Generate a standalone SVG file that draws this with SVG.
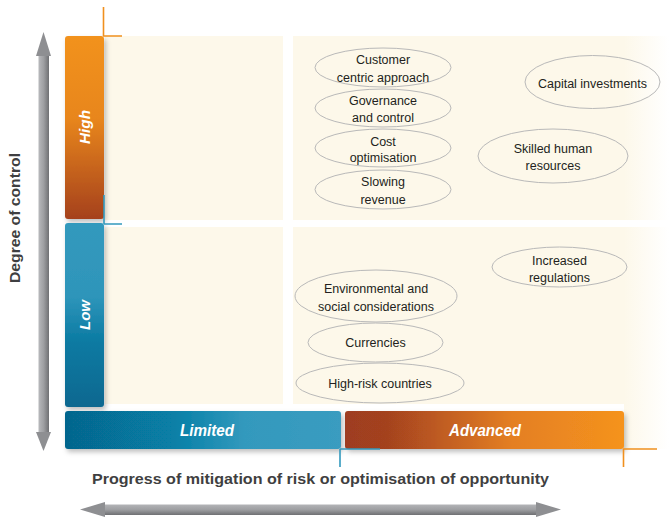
<svg xmlns="http://www.w3.org/2000/svg" width="669" height="531" viewBox="0 0 669 531">
<defs>
<linearGradient id="gHigh" x1="0" y1="0" x2="0" y2="1">
<stop offset="0" stop-color="#f2921e"/><stop offset="0.45" stop-color="#e8861f"/><stop offset="1" stop-color="#a5411f"/>
</linearGradient>
<linearGradient id="gLow" x1="0" y1="0" x2="0" y2="1">
<stop offset="0" stop-color="#3399bd"/><stop offset="0.4" stop-color="#2e95ba"/><stop offset="0.65" stop-color="#0a7aa2"/><stop offset="1" stop-color="#0a6890"/>
</linearGradient>
<linearGradient id="gLim" x1="0" y1="0" x2="1" y2="0">
<stop offset="0" stop-color="#06658d"/><stop offset="0.4" stop-color="#0780a7"/><stop offset="0.65" stop-color="#3399bd"/><stop offset="1" stop-color="#3a9cc0"/>
</linearGradient>
<linearGradient id="gAdv" x1="0" y1="0" x2="1" y2="0">
<stop offset="0" stop-color="#9e3d20"/><stop offset="0.15" stop-color="#a4421f"/><stop offset="0.6" stop-color="#e47f22"/><stop offset="1" stop-color="#f5931e"/>
</linearGradient>
<linearGradient id="gFade" x1="0" y1="0" x2="1" y2="0">
<stop offset="0" stop-color="#fdf8ea"/><stop offset="0.88" stop-color="#fdf8ea"/><stop offset="1" stop-color="#ffffff"/>
</linearGradient>
<linearGradient id="gFade2" x1="0" y1="0" x2="1" y2="0">
<stop offset="0" stop-color="#fdf8ea"/><stop offset="1" stop-color="#ffffff"/>
</linearGradient>
<linearGradient id="gShaftV" x1="0" y1="0" x2="1" y2="0">
<stop offset="0" stop-color="#b8b9bc"/><stop offset="0.5" stop-color="#9d9ea1"/><stop offset="1" stop-color="#6f7073"/>
</linearGradient>
<linearGradient id="gShaftH" x1="0" y1="0" x2="0" y2="1">
<stop offset="0" stop-color="#b3b4b7"/><stop offset="0.5" stop-color="#9d9ea1"/><stop offset="1" stop-color="#6f7073"/>
</linearGradient>
<filter id="sh" x="-10%" y="-10%" width="130%" height="140%">
<feDropShadow dx="2" dy="3" stdDeviation="2.5" flood-color="#000" flood-opacity="0.25"/>
</filter>
</defs>
<style>
.el{fill:none;stroke:#b9b9b9;stroke-width:1}
.t{font-family:"Liberation Sans",Arial,sans-serif;font-size:12.5px;fill:#231f20;text-anchor:middle}
.lab{font-family:"Liberation Sans",Arial,sans-serif;font-style:italic;font-weight:bold;fill:#ffffff;text-anchor:middle}
.ax{font-family:"Liberation Sans",Arial,sans-serif;font-weight:bold;fill:#3f3f41;text-anchor:middle}
.tick{fill:none;stroke-width:1.6}
</style>
<rect width="669" height="531" fill="#ffffff"/>

<g id="quadrants">
<rect x="105" y="36" width="178" height="184" fill="#fdf8ea"/>
<rect x="293" y="36" width="376" height="184" fill="url(#gFade)"/>
<rect x="105" y="227" width="178" height="177" fill="#fdf8ea"/>
<rect x="293" y="227" width="376" height="177" fill="url(#gFade)"/>
<rect x="624" y="404" width="45" height="45" fill="url(#gFade2)"/>
</g>

<g id="axis-y">
<rect x="38.5" y="55" width="10.5" height="379" fill="url(#gShaftV)"/>
<polygon points="43.5,32 51,56 36,56" fill="#8e8f92"/>
<polygon points="43.5,451 51,432 36,432" fill="#8e8f92"/>
<text class="ax" font-size="15" transform="translate(20,218) rotate(-90)" textLength="130" lengthAdjust="spacingAndGlyphs">Degree of control</text>
</g>

<g id="axis-x">
<rect x="104" y="504.5" width="432" height="10.5" fill="url(#gShaftH)"/>
<polygon points="80,509.5 105,502 105,517" fill="#8e8f92"/>
<polygon points="561,509.5 536,502 536,517" fill="#8e8f92"/>
<text class="ax" font-size="15" x="320.5" y="484" textLength="457" lengthAdjust="spacingAndGlyphs">Progress of mitigation of risk or optimisation of opportunity</text>
</g>

<g id="high">
<rect x="65" y="36" width="39" height="183" rx="3" fill="url(#gHigh)" filter="url(#sh)"/>
<text class="lab" font-size="15" transform="translate(89.5,127) rotate(-90)" textLength="34" lengthAdjust="spacingAndGlyphs">High</text>
</g>
<g id="low">
<rect x="65" y="223" width="39" height="184" rx="3" fill="url(#gLow)" filter="url(#sh)"/>
<text class="lab" font-size="15" transform="translate(89.5,315) rotate(-90)" textLength="30" lengthAdjust="spacingAndGlyphs">Low</text>
</g>
<g id="limited">
<rect x="65" y="411" width="276" height="38" rx="3" fill="url(#gLim)" filter="url(#sh)"/>
<text class="lab" font-size="17" x="207" y="436" textLength="54" lengthAdjust="spacingAndGlyphs">Limited</text>
</g>
<g id="advanced">
<rect x="345" y="411" width="279" height="38" rx="3" fill="url(#gAdv)" filter="url(#sh)"/>
<text class="lab" font-size="17" x="485" y="436" textLength="72" lengthAdjust="spacingAndGlyphs">Advanced</text>
</g>

<g id="ticks">
<path class="tick" stroke="#f0901e" d="M103.5,7 V36 M103,36 H122"/>
<path class="tick" stroke="#3399bd" d="M104,195 V224 M104,224 H122"/>
<path class="tick" stroke="#3399bd" d="M340,449 V467 M340,449 H380"/>
<path class="tick" stroke="#f0901e" d="M623.5,449 V467 M623,449 H657"/>
</g>

<g id="n-customer"><ellipse class="el" cx="383" cy="67.5" rx="68" ry="19.5"/><text class="t" x="383" y="64">Customer</text><text class="t" x="383" y="82">centric approach</text></g>
<g id="n-governance"><ellipse class="el" cx="383" cy="108" rx="68" ry="19"/><text class="t" x="383" y="105">Governance</text><text class="t" x="383" y="122">and control</text></g>
<g id="n-cost"><ellipse class="el" cx="383" cy="148" rx="68" ry="19"/><text class="t" x="383" y="146">Cost</text><text class="t" x="383" y="162">optimisation</text></g>
<g id="n-slowing"><ellipse class="el" cx="383" cy="189.5" rx="68" ry="19.5"/><text class="t" x="383" y="186">Slowing</text><text class="t" x="383" y="204">revenue</text></g>
<g id="n-capital"><ellipse class="el" cx="592.5" cy="82" rx="67.5" ry="26.5"/><text class="t" x="592.5" y="88">Capital investments</text></g>
<g id="n-skilled"><ellipse class="el" cx="553" cy="156" rx="75" ry="27"/><text class="t" x="553" y="153">Skilled human</text><text class="t" x="553" y="170">resources</text></g>
<g id="n-regulations"><ellipse class="el" cx="559.5" cy="267" rx="67.5" ry="20"/><text class="t" x="559.5" y="265">Increased</text><text class="t" x="559.5" y="282">regulations</text></g>
<g id="n-environmental"><ellipse class="el" cx="376" cy="296" rx="81" ry="26"/><text class="t" x="376" y="293">Environmental and</text><text class="t" x="376" y="311">social considerations</text></g>
<g id="n-currencies"><ellipse class="el" cx="375.5" cy="342.5" rx="67.5" ry="19.5"/><text class="t" x="375.5" y="347">Currencies</text></g>
<g id="n-highrisk"><ellipse class="el" cx="380" cy="383" rx="84" ry="20"/><text class="t" x="380" y="388">High-risk countries</text></g>
</svg>
